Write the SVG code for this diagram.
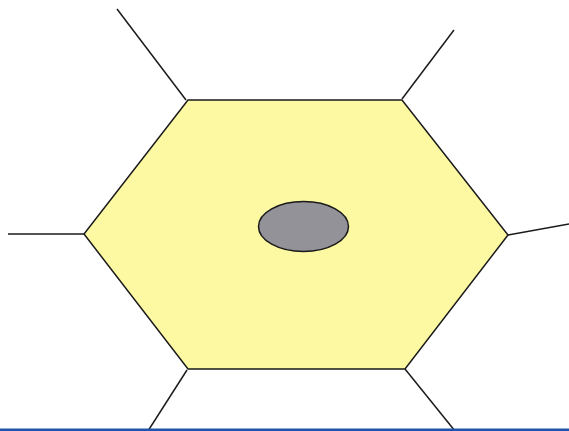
<svg xmlns="http://www.w3.org/2000/svg" width="569" height="431" viewBox="0 0 569 431">
<style>
.ln{stroke:#1a1a1a;stroke-width:1.5;fill:none}
</style>
<rect width="569" height="431" fill="#ffffff"/>
<g id="connectors">
<line class="ln" x1="186" y1="100" x2="117" y2="9"/>
<line class="ln" x1="402" y1="99" x2="454" y2="30"/>
<line class="ln" x1="84" y1="234" x2="8" y2="234"/>
<line class="ln" x1="508" y1="235" x2="569" y2="224"/>
<line class="ln" x1="187" y1="370" x2="148" y2="431"/>
<line class="ln" x1="405" y1="369" x2="455" y2="431"/>
</g>
<g id="cell">
<polygon points="188,100 402,100 508,235 405,369 188,369 84,234" fill="#fdf9a3" stroke="#1a1a1a" stroke-width="1.5"/>
</g>
<g id="nucleus">
<ellipse cx="303.5" cy="226.5" rx="45" ry="25" fill="#929298" stroke="#1a1a1a" stroke-width="1.5"/>
</g>
<rect x="0" y="428.5" width="569" height="2.5" fill="#1f55a8"/>
</svg>
